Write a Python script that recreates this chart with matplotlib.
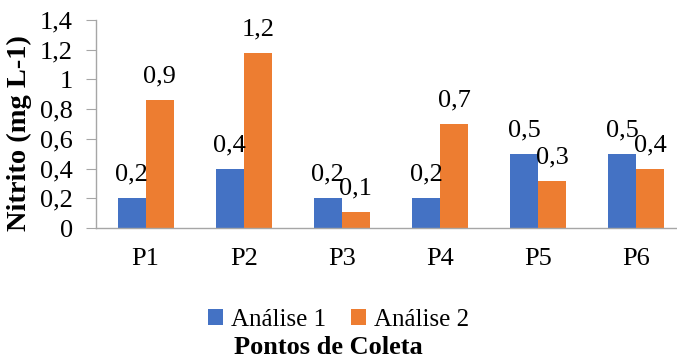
# -*- coding: utf-8 -*-
import numpy as np
import matplotlib.pyplot as plt

# Dados de nitrito por ponto de coleta
pontos = ['P1', 'P2', 'P3', 'P4', 'P5', 'P6']
analise1 = [0.20, 0.40, 0.20, 0.20, 0.50, 0.50]
analise2 = [0.86, 1.18, 0.11, 0.70, 0.32, 0.40]
yticks = [0, 0.2, 0.4, 0.6, 0.8, 1.0, 1.2, 1.4]

plt.rcParams['font.family'] = ['Liberation Serif', 'DejaVu Serif']

fig = plt.figure(figsize=(6.77, 3.58), dpi=100)
ax = fig.add_axes([0.1425, 0.363, 0.870, 0.581])

x = np.arange(len(pontos))
w = 0.285
b1 = ax.bar(x - w / 2, analise1, w, color='#4472C4', label='Análise 1')
b2 = ax.bar(x + w / 2, analise2, w, color='#ED7D31', label='Análise 2')

def fmt(v):
    return ('%.1f' % v).replace('.', ',')

for bars, vals in [(b1, analise1), (b2, analise2)]:
    for bar, v in zip(bars, vals):
        ax.annotate(fmt(v), (bar.get_x() + bar.get_width() / 2, v),
                    xytext=(0, 9), textcoords='offset points',
                    ha='center', va='bottom', fontsize=19)

ax.set_xlim(-0.5, len(pontos) - 0.5)
ax.set_ylim(0, 1.4)
ax.set_xticks(x)
ax.set_xticklabels(pontos, fontsize=19)
ax.set_yticks(yticks)
ax.set_yticklabels([('%.1f' % t).replace('.', ',').replace(',0', '') for t in yticks], fontsize=19)
ax.tick_params(axis='x', length=0, pad=14.5)
ax.tick_params(axis='y', length=7, color='#A6A6A6', pad=10)

for s in ['top', 'right']:
    ax.spines[s].set_visible(False)
for s in ['left', 'bottom']:
    ax.spines[s].set_color('#A6A6A6')
    ax.spines[s].set_linewidth(1)

ax.set_ylabel('Nitrito (mg L-1)', fontsize=20.5, fontweight='bold')
ax.yaxis.set_label_coords(-0.109, 0.457)

fig.legend(loc='center', bbox_to_anchor=(0.5, 1 - 320 / 358), ncol=2, frameon=False,
           fontsize=18, handlelength=0.6, handleheight=0.6, handletextpad=0.3,
           columnspacing=1.0, borderpad=0)
fig.text(328 / 677, 1 - 347 / 358, 'Pontos de Coleta', ha='center', va='center',
         fontsize=19, fontweight='bold')

plt.savefig('out.png', dpi=100)
